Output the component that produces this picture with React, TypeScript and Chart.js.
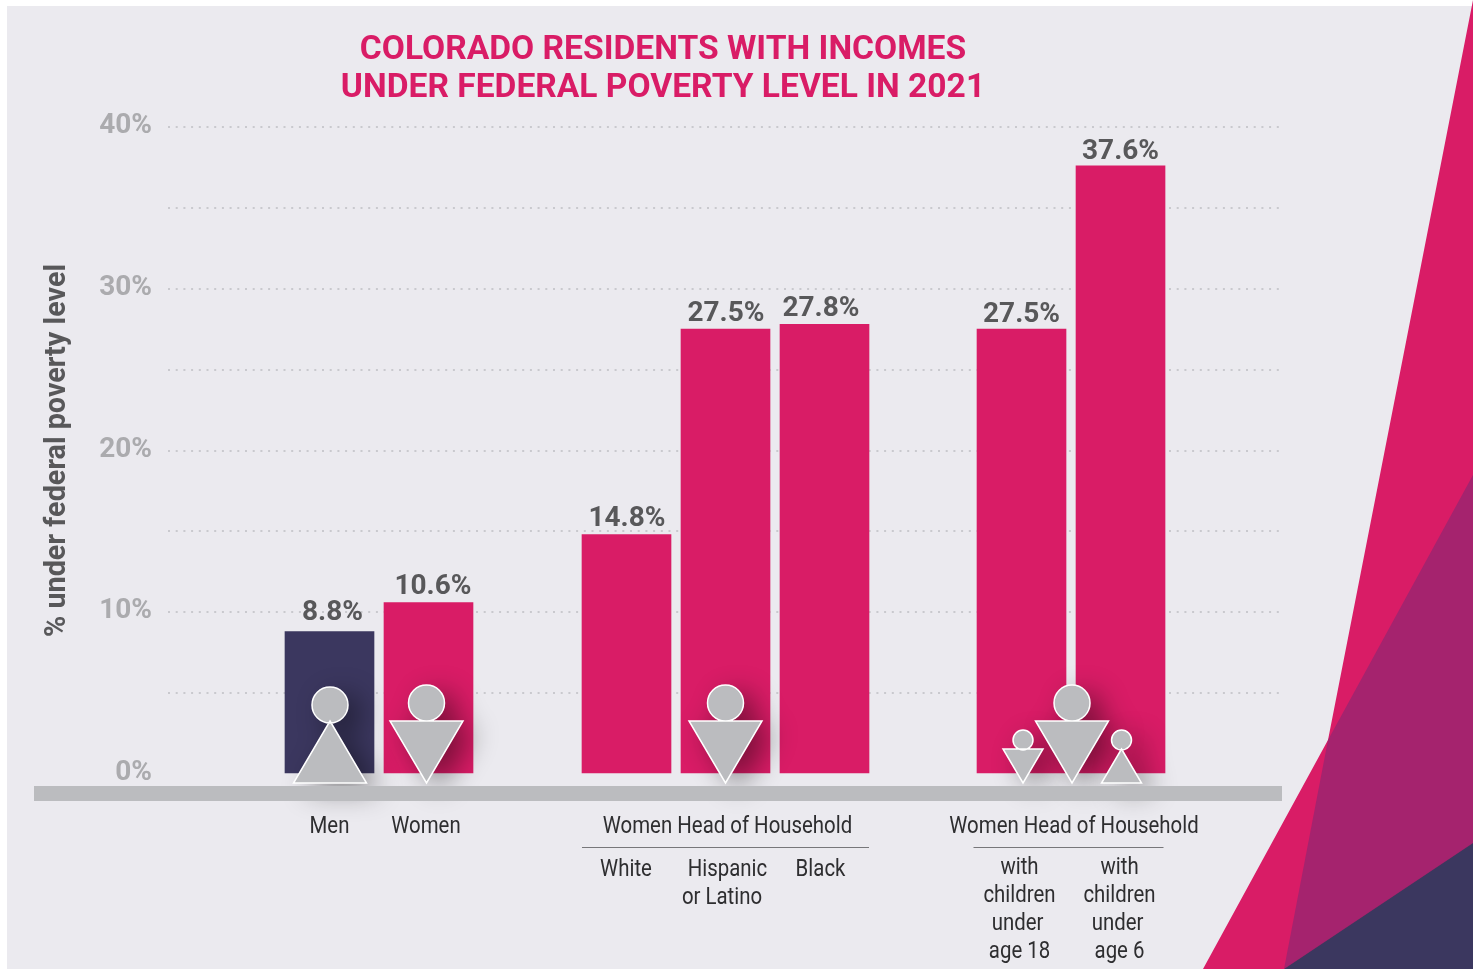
import React, { useEffect, useRef } from "react";
import { Chart, registerables } from "chart.js";

Chart.register(...registerables);

const titleLines = ["COLORADO RESIDENTS WITH INCOMES", "UNDER FEDERAL POVERTY LEVEL IN 2021"];
const yAxisTitle = "% under federal poverty level";
const categories = ["Men", "Women", "White", "Hispanic or Latino", "Black", "with children under age 18", "with children under age 6"];
const slots = [1, 2, 4, 5, 6, 7.99, 8.99];
const values = [8.8, 10.6, 14.8, 27.5, 27.8, 27.5, 37.6];
const barColors = ["#3B375F", "#D91C66", "#D91C66", "#D91C66", "#D91C66", "#D91C66", "#D91C66"];
const yTicks = [0, 10, 20, 30, 40];

const PINK = "#D91C66";
const PURPLE = "#A5236E";
const NAVY = "#3B375F";
const ICON = "#BBBCBF";

const drawNarrow = (ctx: CanvasRenderingContext2D, text: string, x: number, y: number) => {
  ctx.save();
  ctx.translate(x, y);
  ctx.scale(0.85, 1);
  ctx.font = "400 24px Roboto";
  ctx.fillStyle = "#2E2E30";
  ctx.textAlign = "center";
  ctx.textBaseline = "middle";
  ctx.fillText(text, 0, 0);
  ctx.restore();
};

const poly = (ctx: CanvasRenderingContext2D, pts: number[][], fill: string) => {
  ctx.beginPath();
  pts.forEach((p, i) => (i ? ctx.lineTo(p[0], p[1]) : ctx.moveTo(p[0], p[1])));
  ctx.closePath();
  ctx.fillStyle = fill;
  ctx.fill();
};

const backdrop = {
  id: "backdrop",
  beforeDraw(chart: any) {
    const { ctx, width, height } = chart;
    ctx.save();
    ctx.fillStyle = "#FFFFFF";
    ctx.fillRect(0, 0, width, height);
    ctx.fillStyle = "#EBEAEF";
    ctx.fillRect(7, 6, width - 7, height - 6);
    poly(ctx, [[1473, 0], [1473, 969], [1203, 969], [1328, 740]], PINK);
    poly(ctx, [[1473, 475], [1473, 843], [1284, 969], [1328, 740]], PURPLE);
    poly(ctx, [[1473, 843], [1473, 969], [1284, 969]], NAVY);
    ctx.restore();
  },
};

type Figure = { slot: number; dx: number; woman: boolean; small: boolean };
const figures: Figure[] = [
  { slot: 1, dx: 0.5, woman: false, small: false },
  { slot: 2, dx: -2, woman: true, small: false },
  { slot: 5, dx: 0, woman: true, small: false },
  { slot: 7.99, dx: 1.5, woman: true, small: true },
  { slot: 8.49, dx: 1, woman: true, small: false },
  { slot: 8.99, dx: 1, woman: false, small: true },
];

const figurePath = (ctx: CanvasRenderingContext2D, cx: number, base: number, f: Figure) => {
  const half = f.small ? 20 : 36.5;
  const r = f.small ? 10 : 18;
  const tri = f.small ? 34 : 62;
  const head = f.small ? 43 : f.woman ? 80 : 78;
  ctx.beginPath();
  if (f.woman) {
    ctx.moveTo(cx - half, base - tri);
    ctx.lineTo(cx + half, base - tri);
    ctx.lineTo(cx, base);
  } else {
    ctx.moveTo(cx, base - tri);
    ctx.lineTo(cx + half, base);
    ctx.lineTo(cx - half, base);
  }
  ctx.closePath();
  ctx.moveTo(cx + r, base - head);
  ctx.arc(cx, base - head, r, 0, Math.PI * 2);
};

const overlay = {
  id: "overlay",
  afterDatasetsDraw(chart: any) {
    const { ctx } = chart;
    const xs = chart.scales.x;
    const ys = chart.scales.y;
    const zero = ys.getPixelForValue(0);
    const base = zero + 9;
    ctx.save();

    figures.forEach((f) => {
      ctx.save();
      ctx.shadowColor = "rgba(0,0,0,0.45)";
      ctx.shadowBlur = 28;
      ctx.shadowOffsetX = 12;
      ctx.shadowOffsetY = 8;
      figurePath(ctx, xs.getPixelForValue(f.slot) + f.dx, base, f);
      ctx.fillStyle = ICON;
      ctx.fill();
      ctx.restore();
    });

    ctx.fillStyle = "#BBBCBF";
    ctx.fillRect(34, zero + 12, chart.chartArea.right - 34, 15);

    figures.forEach((f) => {
      figurePath(ctx, xs.getPixelForValue(f.slot) + f.dx, base, f);
      ctx.fillStyle = ICON;
      ctx.fill();
      ctx.strokeStyle = "#FFFFFF";
      ctx.lineWidth = 1.5;
      ctx.stroke();
    });

    const nudgeX = [3, 4.5, 0.5, 0.5, -3.5, 0, 0];
    const nudgeY = [-19, -15.5, -15.5, -15.5, -15.5, -14.5, -14];
    const meta = chart.getDatasetMeta(0);
    ctx.font = "700 28px Roboto";
    ctx.fillStyle = "#58585A";
    ctx.textAlign = "center";
    ctx.textBaseline = "middle";
    meta.data.forEach((bar: any, i: number) => {
      ctx.fillText(values[i].toFixed(1) + "%", bar.x + nudgeX[i], bar.y + nudgeY[i]);
    });

    const px = (slot: number) => xs.getPixelForValue(slot);
    const row1 = zero + 53;
    drawNarrow(ctx, "Men", px(1), row1);
    drawNarrow(ctx, "Women", px(2) - 2.5, row1);
    drawNarrow(ctx, "Women Head of Household", px(5) + 2, row1);
    drawNarrow(ctx, "Women Head of Household", px(8.49) + 3, row1);

    ctx.strokeStyle = "#77777A";
    ctx.lineWidth = 1;
    ctx.beginPath();
    ctx.moveTo(px(4) - 44.5, zero + 73.5);
    ctx.lineTo(px(6) + 44.5, zero + 73.5);
    ctx.moveTo(px(7.99) - 48, zero + 73.5);
    ctx.lineTo(px(8.99) + 43, zero + 73.5);
    ctx.stroke();

    const row2 = zero + 96;
    drawNarrow(ctx, "White", px(4) - 0.5, row2);
    drawNarrow(ctx, "Hispanic", px(5) + 2, row2);
    drawNarrow(ctx, "or Latino", px(5) - 3.5, row2 + 28);
    drawNarrow(ctx, "Black", px(6) - 4, row2);

    const row3 = zero + 94;
    [["with", "children", "under", "age 18"], ["with", "children", "under", "age 6"]].forEach((lines, g) => {
      const c = px(g ? 8.99 : 7.99) - (g ? 1 : 2);
      lines.forEach((t, i) => drawNarrow(ctx, t, c - (i === 2 ? 2 : 0), row3 + i * 28));
    });

    ctx.restore();
  },
};

export default function App() {
  const ref = useRef<HTMLCanvasElement>(null);
  useEffect(() => {
    const chart = new Chart(ref.current as HTMLCanvasElement, {
      type: "bar",
      data: {
        labels: categories,
        datasets: [
          {
            data: slots.map((s, i) => ({ x: s, y: values[i] })),
            backgroundColor: barColors,
            barThickness: 89,
            borderWidth: 0,
          },
        ],
      } as any,
      options: {
        responsive: false,
        animation: false,
        layout: { autoPadding: false, padding: { left: 44, right: 191, top: 32, bottom: 195 } },
        plugins: {
          legend: { display: false },
          tooltip: { enabled: false },
          title: {
            display: true,
            text: titleLines,
            color: PINK,
            font: { family: "Roboto", size: 33.6, weight: 700, lineHeight: 1.131 },
            padding: { top: 0, bottom: 19 },
          },
        },
        scales: {
          x: {
            type: "linear",
            display: false,
            offset: false,
            min: -0.6313,
            max: 10.6212,
          },
          y: {
            min: 0,
            max: 40,
            afterFit(scale: any) {
              scale.width = 124;
            },
            border: { display: false, dash: [2, 5.7] },
            grid: {
              drawTicks: false,
              lineWidth: 2,
              color: (c: any) => (c.tick.value === 0 ? "transparent" : "#C9C9CE"),
            },
            ticks: {
              stepSize: 5,
              padding: 16,
              labelOffset: -1,
              color: "#ABABAE",
              font: { family: "Roboto", size: 28, weight: 700 },
              callback: (v: any) => (yTicks.includes(Number(v)) ? v + "%" : ""),
            },
            title: {
              display: true,
              text: yAxisTitle,
              color: "#58585A",
              font: { family: "Roboto", size: 28.8, weight: 700, lineHeight: 1 },
              padding: { top: -1, bottom: 0 },
            },
          },
        },
      } as any,
      plugins: [backdrop, overlay],
    });
    return () => chart.destroy();
  }, []);
  return (
    <canvas
      ref={ref}
      width={1473}
      height={969}
      style={{ position: "absolute", left: 0, top: 0, width: 1473, height: 969, display: "block" }}
    />
  );
}
